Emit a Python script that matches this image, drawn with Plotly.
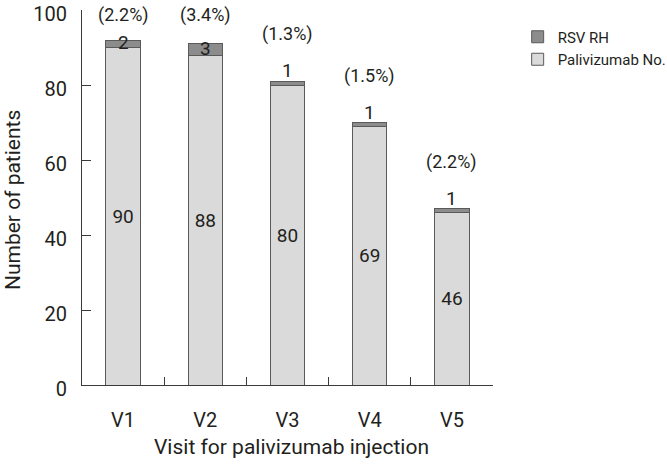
import plotly.graph_objects as go

visits = ["V1", "V2", "V3", "V4", "V5"]
palivizumab = [90, 88, 80, 69, 46]
rsv_rh = [2, 3, 1, 1, 1]
pct_labels = ["(2.2%)", "(3.4%)", "(1.3%)", "(1.5%)", "(2.2%)"]
y_ticks = [0, 20, 40, 60, 80, 100]

FONT = "Roboto, Liberation Sans, sans-serif"
TXT = "#231f20"

fig = go.Figure()
fig.add_trace(go.Bar(
    x=visits, y=palivizumab, name="Palivizumab No.",
    marker=dict(color="#d9dad9", line=dict(color="#5a5a5a", width=1)),
    text=[str(v) for v in palivizumab], textposition="inside",
    insidetextanchor="middle", textangle=0,
    textfont=dict(family=FONT, size=19, color=TXT),
    width=0.42,
))
fig.add_trace(go.Bar(
    x=visits, y=rsv_rh, name="RSV RH",
    marker=dict(color="#8c8c8c", line=dict(color="#5a5a5a", width=1)),
    width=0.42,
))

for v, p, r, lab in zip(visits, palivizumab, rsv_rh, pct_labels):
    total = p + r
    if r >= 2:
        fig.add_annotation(x=v, y=p + r / 2, text=str(r), showarrow=False,
                           font=dict(family=FONT, size=19, color=TXT), yshift=1)
    else:
        fig.add_annotation(x=v, y=total, text=str(r), showarrow=False,
                           yanchor="bottom", yshift=-3,
                           font=dict(family=FONT, size=19, color=TXT))
    fig.add_annotation(x=v, y=min(total + 12.5, 98.7), text=lab, showarrow=False,
                       font=dict(family=FONT, size=18, color=TXT))

# axis titles
fig.add_annotation(xref="paper", yref="paper", x=0.51, y=-0.165,
                   xanchor="center", yanchor="middle",
                   text="Visit for palivizumab injection", showarrow=False,
                   font=dict(family=FONT, size=21, color=TXT))
fig.add_annotation(xref="paper", yref="paper", x=-0.168, y=0.493,
                   xanchor="center", yanchor="middle",
                   text="Number of patients", showarrow=False, textangle=-90,
                   font=dict(family=FONT, size=21, color=TXT))

fig.update_layout(
    width=667, height=466,
    margin=dict(l=82, r=174, t=10, b=81, autoexpand=False),
    paper_bgcolor="white", plot_bgcolor="white",
    barmode="stack",
    font=dict(family=FONT, size=19, color=TXT),
    showlegend=True,
    legend=dict(x=1.06, y=0.972, xanchor="left", yanchor="top",
                traceorder="reversed", font=dict(family=FONT, size=15, color=TXT),
                itemwidth=30, tracegroupgap=0, bgcolor="rgba(0,0,0,0)"),
    xaxis=dict(
        range=[-0.5, 4.5], showline=True, linecolor="#3a3a3a", linewidth=1,
        ticks="inside", tickson="boundaries", ticklen=8, tickcolor="#3a3a3a",
        ticklabelstandoff=17, automargin=False,
        tickfont=dict(family=FONT, size=20, color=TXT),
        showgrid=False, zeroline=False,
    ),
    yaxis=dict(
        range=[0, 100], tickvals=y_ticks, showline=True, linecolor="#3a3a3a",
        linewidth=1, ticks="inside", ticklen=9, tickcolor="#3a3a3a",
        ticklabelstandoff=10, ticklabelshift=4, automargin=False,
        ticklabeloverflow="allow",
        tickfont=dict(family=FONT, size=20, color=TXT),
        showgrid=False, zeroline=False,
    ),
)

fig.write_html("out.html", config={"displayModeBar": False},
               post_script="document.body.style.margin='0';document.body.style.overflow='hidden';")
